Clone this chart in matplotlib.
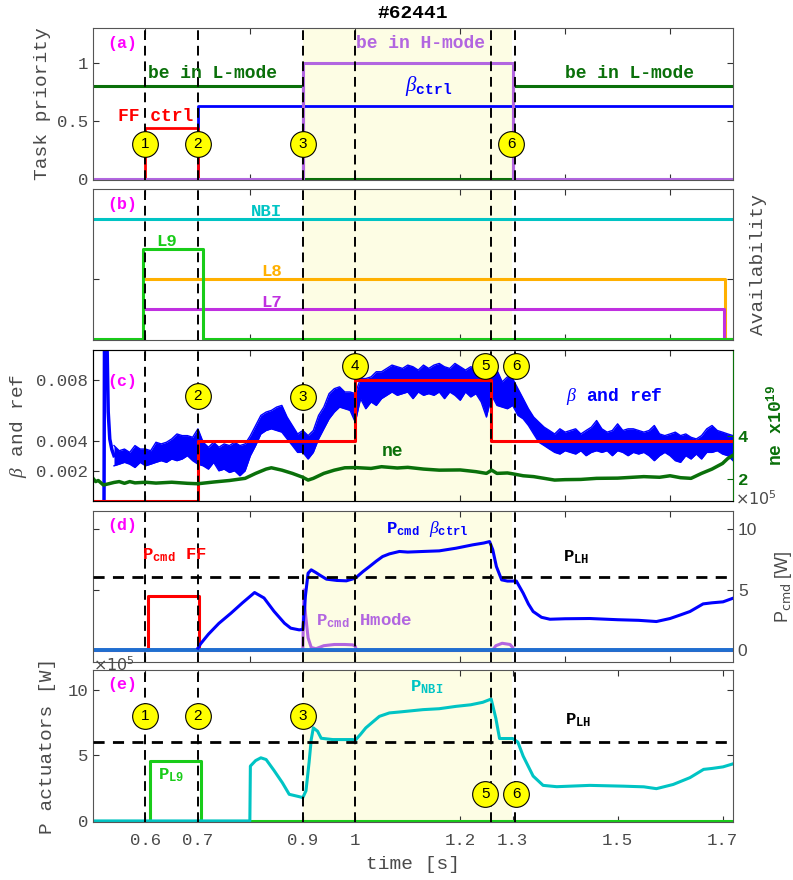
import numpy as np
import matplotlib
matplotlib.use("Agg")
import matplotlib.pyplot as plt

plt.rcParams["font.family"] = ["Liberation Mono", "DejaVu Sans"]
plt.rcParams["mathtext.fontset"] = "custom"
plt.rcParams["mathtext.rm"] = "Liberation Mono"
plt.rcParams["mathtext.bf"] = "Liberation Mono:bold"
plt.rcParams["mathtext.it"] = "Liberation Serif:italic"

# ---------------- data ----------------
events = [0.6, 0.7, 0.9, 1.0, 1.258, 1.305]
hmode_window = [0.9, 1.298]

# (a) task priorities, step "post"
lmode_t = [0.5, 0.9, 1.3, 1.72]
lmode_v = [0.8, 0.0, 0.8, 0.8]
hmode_t = [0.5, 0.9, 1.3, 1.72]
hmode_v = [0.0, 1.0, 0.0, 0.0]
bctrl_t = [0.5, 0.7, 1.72]
bctrl_v = [0.0, 0.63, 0.63]
ff_t = [0.5, 0.6, 0.7, 1.72]
ff_v = [0.0, 0.44, 0.0, 0.0]

# (b) availability, step "post"
nbi_av_t = [0.5, 1.72]
nbi_av_v = [1.0, 1.0]
l9_av_t = [0.5, 0.596, 0.709, 1.72]
l9_av_v = [0.0, 0.75, 0.0, 0.0]
l8_av_t = [0.6, 1.705, 1.72]
l8_av_v = [0.5, 0.0, 0.0]
l7_av_t = [0.6, 1.702, 1.72]
l7_av_v = [0.25, 0.0, 0.0]

# (c) beta (x1e-3): start spike + noisy band envelope
spike_t = [0.521, 0.522, 0.526, 0.529, 0.532, 0.536, 0.54]
spike_v = [0.0, 12.0, 12.0, 5.9, 4.1, 3.4, 3.0]
beta_t = np.round(np.arange(0.54, 1.7201, 0.01), 2)
beta_hi = [3.67, 3.33, 3.44, 3.22, 3.67, 3.44, 3.44, 3.33, 3.89, 3.78,
           3.89, 4.11, 4.44, 4.33, 4.33, 4.22, 4.78, 3.89, 3.56, 3.89,
           3.56, 3.78, 3.67, 3.89, 3.67, 3.78, 4.33, 5.00, 5.67, 5.89,
           6.00, 6.22, 6.33, 5.56, 5.00, 4.44, 4.67, 4.33, 4.67, 5.67,
           6.22, 7.11, 7.44, 7.56, 7.22, 7.22, 7.11, 8.11, 8.11, 8.22,
           8.56, 8.56, 8.78, 9.00, 8.89, 8.78, 9.00, 8.89, 8.67, 9.00,
           8.78, 9.00, 9.11, 8.89, 8.78, 9.11, 8.89, 8.67, 8.89, 8.78,
           8.33, 8.11, 8.89, 8.67, 7.89, 8.22, 8.11, 7.44, 6.78, 6.11,
           5.56, 5.22, 4.89, 4.67, 4.44, 4.78, 4.56, 4.67, 4.78, 4.44,
           4.67, 4.89, 5.33, 4.78, 4.56, 4.67, 5.11, 4.67, 4.78, 4.78,
           4.67, 4.56, 4.67, 5.00, 4.44, 4.33, 4.44, 4.56, 4.33, 4.44,
           4.22, 4.11, 4.33, 4.78, 5.00, 4.67, 4.56, 4.44, 4.33]
beta_lo = [2.33, 2.44, 2.56, 2.44, 2.22, 2.56, 2.33, 2.44, 2.56, 2.67,
           2.56, 2.78, 2.67, 2.78, 3.00, 2.67, 2.44, 2.33, 2.11, 2.56,
           2.00, 2.11, 1.89, 2.00, 1.67, 2.00, 3.00, 3.67, 4.44, 4.67,
           4.78, 4.67, 4.56, 4.11, 3.67, 3.22, 3.22, 2.78, 3.22, 4.11,
           4.78, 5.44, 5.89, 6.22, 6.11, 6.00, 5.22, 6.78, 6.11, 6.56,
           6.33, 6.78, 7.00, 7.22, 7.00, 7.11, 7.22, 6.78, 7.22, 7.00,
           7.11, 7.00, 7.22, 6.78, 7.22, 7.00, 6.67, 7.22, 6.89, 7.11,
           6.56, 5.56, 7.00, 6.33, 6.22, 6.11, 6.33, 5.67, 5.44, 5.00,
           4.44, 3.89, 3.67, 3.44, 3.22, 3.11, 3.33, 3.22, 3.11, 3.33,
           3.00, 3.22, 3.33, 3.22, 3.33, 3.00, 3.33, 3.22, 3.00, 3.22,
           3.11, 3.22, 3.00, 2.67, 3.00, 3.22, 3.00, 2.67, 2.56, 3.00,
           2.78, 3.11, 2.78, 3.22, 3.22, 3.33, 3.11, 3.00, 2.67]
ref_t = [0.5, 0.7, 1.0, 1.258, 1.72]
ref_v = [0.0, 4.0, 8.0, 4.0, 4.0]
ne_t = [0.5, 0.505, 0.51, 0.52, 0.53, 0.54, 0.55, 0.56, 0.57, 0.58, 0.6, 0.62,
        0.65, 0.68, 0.7, 0.73, 0.76, 0.79, 0.81, 0.83, 0.84, 0.86, 0.88, 0.9,
        0.91, 0.92, 0.94, 0.96, 0.98, 1.0, 1.03, 1.05, 1.08, 1.1, 1.13, 1.16,
        1.2, 1.23, 1.25, 1.26, 1.27, 1.29, 1.3, 1.32, 1.34, 1.36, 1.38, 1.4,
        1.43, 1.46, 1.5, 1.55, 1.58, 1.6, 1.62, 1.64, 1.66, 1.68, 1.7, 1.71, 1.72]
ne_v = [2.05, 1.9, 1.95, 1.74, 1.8, 1.86, 1.9, 1.82, 1.9, 1.84, 1.87, 1.83,
        1.87, 1.82, 1.8, 1.88, 1.95, 2.05, 2.28, 2.48, 2.54, 2.43, 2.28, 2.1,
        1.97, 2.05, 2.28, 2.43, 2.54, 2.55, 2.51, 2.59, 2.53, 2.56, 2.48, 2.43,
        2.44, 2.36, 2.28, 2.43, 2.28, 2.3, 2.26, 2.17, 2.13, 2.05, 1.97, 1.99,
        2.0, 2.05, 2.06, 2.13, 2.1, 2.17, 2.08, 2.05, 2.28, 2.48, 2.74, 2.97, 3.12]

# (d) commanded powers (x1e5 W)
pcmd_b_t = [0.7, 0.705, 0.72, 0.74, 0.763, 0.785, 0.808, 0.826, 0.845, 0.865,
            0.877, 0.893, 0.9, 0.905, 0.91, 0.916, 0.925, 0.932, 0.945, 0.965,
            0.983, 1.0, 1.015, 1.027, 1.04, 1.052, 1.065, 1.084, 1.1, 1.129,
            1.16, 1.192, 1.224, 1.245, 1.256, 1.262, 1.269, 1.279, 1.29, 1.307,
            1.32, 1.33, 1.339, 1.355, 1.371, 1.4, 1.447, 1.5, 1.54, 1.574,
            1.6, 1.62, 1.638, 1.663, 1.68, 1.701, 1.72]
pcmd_b_v = [0.15, 0.5, 1.3, 2.2, 3.04, 3.9, 4.75, 4.3, 3.2, 2.21,
            1.8, 1.66, 1.7, 4.5, 6.35, 6.63, 6.4, 6.2, 5.86, 5.75,
            5.72, 5.94, 6.5, 6.9, 7.35, 7.73, 7.95, 8.15, 8.1, 8.15,
            8.2, 8.42, 8.7, 8.85, 8.97, 8.3, 6.9, 5.8, 5.7, 5.7,
            4.7, 3.8, 3.18, 2.7, 2.54, 2.58, 2.6, 2.5, 2.45, 2.35,
            2.6, 2.9, 3.18, 3.81, 3.9, 3.98, 4.28]
pcmd_ff_t = [0.5, 0.605, 0.703, 1.72]
pcmd_ff_v = [0.0, 4.5, 0.0, 0.0]
pcmd_h_t = [0.5, 0.9, 0.902, 0.905, 0.91, 0.916, 0.925, 0.94, 0.96, 0.98,
            0.995, 1.0, 1.002, 1.262, 1.268, 1.28, 1.295, 1.3, 1.302, 1.72]
pcmd_h_v = [0.0, 0.0, 4.97, 3.0, 1.0, 0.2, 0.1, 0.35, 0.45, 0.45,
            0.42, 0.3, 0.0, 0.0, 0.35, 0.55, 0.45, 0.2, 0.0, 0.0]
zero_t = [0.5, 1.72]
zero_v = [0.0, 0.0]
p_lh = 6.0

# (e) actuator powers (x1e5 W)
pnbi_t = [0.5, 0.799, 0.8, 0.81, 0.82, 0.83, 0.845, 0.861, 0.874, 0.893,
          0.9, 0.906, 0.912, 0.916, 0.92, 0.928, 0.935, 0.957, 0.995, 1.0,
          1.01, 1.02, 1.035, 1.046, 1.065, 1.084, 1.129, 1.16, 1.192, 1.22,
          1.243, 1.259, 1.268, 1.275, 1.3, 1.31, 1.32, 1.339, 1.358, 1.384,
          1.447, 1.511, 1.55, 1.574, 1.606, 1.638, 1.664, 1.68, 1.701, 1.72]
pnbi_v = [0.0, 0.0, 4.18, 4.6, 4.81, 4.68, 3.85, 2.91, 2.03, 1.85,
          1.78, 2.3, 4.5, 6.2, 7.09, 6.84, 6.3, 6.2, 6.2, 6.15,
          6.6, 7.09, 7.6, 7.97, 8.23, 8.3, 8.48, 8.55, 8.73, 8.85,
          9.04, 9.29, 7.8, 6.28, 6.28, 6.0, 4.94, 3.42, 2.71, 2.61,
          2.71, 2.65, 2.6, 2.46, 2.78, 3.3, 3.93, 4.0, 4.12, 4.35]
pl9_t = [0.5, 0.6096, 0.706, 1.72]
pl9_v = [0.0, 4.56, 0.0, 0.0]

# numbered event markers per panel
circ_a = ([0.6, 0.7, 0.9, 1.297], [0.30, 0.30, 0.30, 0.30], ["1", "2", "3", "6"])
circ_c = ([0.7, 0.9, 1.0, 1.248, 1.307], [6.95, 6.9, 8.95, 8.95, 8.95], ["2", "3", "4", "5", "6"])
circ_e = ([0.6, 0.7, 0.9, 1.248, 1.307], [8.03, 8.03, 8.03, 2.03, 2.03], ["1", "2", "3", "5", "6"])

# ---------------- styling ----------------
GREEN_D = "#0a700a"
PURPLE = "#b266e0"
CYAN = "#00c4c4"
LIME = "#19cc19"
ORANGE = "#ffb000"
MAGENTA_L7 = "#c030e0"
TAG = "#ff00ff"
SHADE = "#fdfde4"
GRAY = "#4a4a4a"

W, H = 793, 880
fig = plt.figure(figsize=(W / 100, H / 100), dpi=100)


def add_panel(top, bottom):
    return fig.add_axes([93 / W, 1 - bottom / H, 640 / W, (bottom - top) / H])


def style(ax, xticks, xlabels):
    ax.set_xlim(0.5, 1.72)
    ax.axvspan(hmode_window[0], hmode_window[1], color=SHADE, lw=0, zorder=0)
    for t in events:
        ax.axvline(t, color="k", lw=1.4, ls=(0, (5, 3)), zorder=3)
    ax.set_xticks(xticks)
    ax.set_xticklabels(xlabels)
    ax.tick_params(direction="in", top=True, right=True, length=4, width=0.8,
                   colors="#333333", labelcolor=GRAY, labelsize=12.5)
    for s in ax.spines.values():
        s.set_color("#555555")
        s.set_linewidth(0.8)


def circles(ax, data):
    for x, y, lab in zip(*data):
        ax.plot(x, y, "o", ms=18.5, mfc="#ffff00", mec="k", mew=0.8, zorder=6, clip_on=False)
        ax.text(x, y, lab, ha="center", va="center", fontsize=11,
                family="Liberation Sans", zorder=7)


def tag(ax, s, y):
    ax.text(0.556, y, s, color=TAG, fontsize=12, fontweight="bold", ha="center", va="center")


ticks_std = [0.6, 0.8, 1.0, 1.2, 1.4, 1.6]
axa = add_panel(28, 180)
axb = add_panel(189, 340)
axc = add_panel(350, 501)
axd = add_panel(511, 662)
axe = add_panel(670, 822)
for ax in (axa, axb, axc, axd):
    style(ax, ticks_std, [""] * len(ticks_std))
ticks_e = [0.6, 0.7, 0.9, 1.0, 1.2, 1.3, 1.5, 1.7]
style(axe, ticks_e, ["0.6", "0.7", "0.9", "1", "1.2", "1.3", "1.5", "1.7"])

# ---- (a)
axa.step(bctrl_t, bctrl_v, where="post", color="blue", lw=2)
axa.step(ff_t, ff_v, where="post", color="red", lw=2)
axa.step(lmode_t, lmode_v, where="post", color=GREEN_D, lw=2.2)
axa.step(hmode_t, hmode_v, where="post", color=PURPLE, lw=2.2)
axa.set_ylim(-0.005, 1.3)
axa.set_yticks([0, 0.5, 1])
axa.set_yticklabels(["0", "0.5", "1"])
axa.set_ylabel("Task priority", fontsize=14, color=GRAY)
axa.yaxis.set_label_coords(-0.066, 0.5)
tag(axa, "(a)", 1.165)
axa.text(0.727, 0.91, "be in L-mode", color=GREEN_D, fontsize=13, fontweight="bold", ha="center", va="center")
axa.text(1.523, 0.91, "be in L-mode", color=GREEN_D, fontsize=13, fontweight="bold", ha="center", va="center")
axa.text(1.124, 1.165, "be in H-mode", color=PURPLE, fontsize=13, fontweight="bold", ha="center", va="center")
axa.text(1.14, 0.80, r"$\beta_{\mathbf{ctrl}}$", color="blue", fontsize=15, ha="center", va="center")
axa.text(0.62, 0.54, "FF ctrl", color="red", fontsize=13, fontweight="bold", ha="center", va="center")
circles(axa, circ_a)

# ---- (b)
axb.step(nbi_av_t, nbi_av_v, where="post", color=CYAN, lw=2.2)
axb.step(l8_av_t, l8_av_v, where="post", color=ORANGE, lw=2.2)
axb.step(l7_av_t, l7_av_v, where="post", color=MAGENTA_L7, lw=2.2)
axb.step(l9_av_t, l9_av_v, where="post", color=LIME, lw=2.2)
axb.set_ylim(-0.01, 1.25)
axb.set_yticks([0, 0.5, 1])
axb.set_yticklabels([])
axb.yaxis.set_label_position("right")
axb.set_ylabel("Availability", fontsize=14, color=GRAY)
axb.yaxis.set_label_coords(1.027, 0.5)
tag(axb, "(b)", 1.12)
axb.text(0.83, 1.06, "NBI", color=CYAN, fontsize=12.5, fontweight="bold", ha="center", va="center")
axb.text(0.64, 0.81, "L9", color=LIME, fontsize=12.5, fontweight="bold", ha="center", va="center")
axb.text(0.84, 0.56, "L8", color=ORANGE, fontsize=12.5, fontweight="bold", ha="center", va="center")
axb.text(0.84, 0.30, "L7", color=MAGENTA_L7, fontsize=12.5, fontweight="bold", ha="center", va="center")

# ---- (c)
axc.fill_between(beta_t, np.array(beta_lo) * 1e-3, np.array(beta_hi) * 1e-3, color="blue", lw=0, zorder=2)
axc.plot(beta_t, np.array(beta_hi) * 1e-3, color="blue", lw=1, zorder=2)
axc.plot(beta_t, np.array(beta_lo) * 1e-3, color="blue", lw=1, zorder=2)
axc.plot(spike_t, np.array(spike_v) * 1e-3, color="blue", lw=2.5, zorder=2)
axc.step(ref_t, np.array(ref_v) * 1e-3, where="post", color="red", lw=2.2, zorder=2.5)
axc.set_ylim(0, 0.01)
axc.set_yticks([0.002, 0.004, 0.008])
axc.set_yticklabels(["0.002", "0.004", "0.008"])
axc.set_ylabel(r"$\beta$ and ref", fontsize=14, color=GRAY)
axc.yaxis.set_label_coords(-0.1, 0.5)
tag(axc, "(c)", 0.0079)
axc.text(1.493, 0.0069, r"$\beta$ and ref", color="blue", fontsize=13, fontweight="bold", ha="center", va="center")
axc.text(1.07, 0.0033, "ne", color=GREEN_D, fontsize=13, fontweight="bold", ha="center", va="center")
circles(axc, (circ_c[0], [v * 1e-3 for v in circ_c[1]], circ_c[2]))
axc2 = axc.twinx()
axc2.plot(ne_t, ne_v, color=GREEN_D, lw=2.5)
axc2.set_ylim(1, 8)
axc2.set_yticks([2, 4])
axc2.set_yticklabels(["2", "4"], fontweight="bold")
axc2.tick_params(direction="in", length=4, width=0.8, colors=GREEN_D, labelsize=12.5)
axc2.spines["right"].set_color(GREEN_D)
axc2.set_ylabel(r"ne x10$^{\mathbf{19}}$", fontsize=13, fontweight="bold", color=GREEN_D)
axc2.yaxis.set_label_coords(1.05, 0.5)

# ---- (d)
axd.step(pcmd_ff_t, pcmd_ff_v, where="post", color="red", lw=2.2, zorder=2)
axd.plot(pcmd_h_t, pcmd_h_v, color=PURPLE, lw=2.2, zorder=2.2)
axd.plot(zero_t, zero_v, color="#1f6fd0", lw=2.8, zorder=2.4)
axd.plot(pcmd_b_t, pcmd_b_v, color="blue", lw=2.2, zorder=2.5)
axd.axhline(p_lh, color="k", lw=2, ls=(0, (4, 3)), zorder=2.6)
axd.set_ylim(-1, 11.5)
axd.set_yticks([0, 5, 10])
axd.set_yticklabels(["0", "5", "10"], family="Liberation Sans")
axd.tick_params(labelleft=False, labelright=True)
axd.yaxis.set_label_position("right")
axd.set_ylabel(r"P$_{\mathrm{cmd}}$ [W]", fontsize=13, color=GRAY, family="Liberation Sans",
               math_fontfamily="dejavusans")
axd.yaxis.set_label_coords(1.062, 0.5)
axd.text(1.003, 1.08, r"$\times10^{5}$", transform=axd.transAxes, ha="left", va="center",
         fontsize=11.5, color=GRAY, math_fontfamily="dejavusans")
tag(axd, "(d)", 10.3)
axd.text(0.593, 7.5, r"P$_{\mathbf{cmd}}$ FF", color="red", fontsize=12.5, fontweight="bold", va="baseline")
axd.text(1.059, 9.7, r"P$_{\mathbf{cmd}}$ $\beta_{\mathbf{ctrl}}$", color="blue", fontsize=12.5,
         fontweight="bold", va="baseline")
axd.text(0.925, 2.0, r"P$_{\mathbf{cmd}}$ Hmode", color=PURPLE, fontsize=12.5, fontweight="bold", va="baseline")
axd.text(1.396, 7.3, r"P$_{\mathbf{LH}}$", color="k", fontsize=12.5, fontweight="bold", va="baseline")

# ---- (e)
axe.step(pl9_t, pl9_v, where="post", color=LIME, lw=2.2, zorder=2)
axe.plot(pnbi_t, pnbi_v, color=CYAN, lw=2.2, zorder=2.2)
axe.axhline(p_lh, color="k", lw=2, ls=(0, (4, 3)), zorder=2.6)
axe.set_ylim(-0.08, 11.5)
axe.set_yticks([0, 5, 10])
axe.set_yticklabels(["0", "5", "10"])
axe.tick_params(axis="x", pad=8)
axe.set_ylabel("P actuators [W]", fontsize=14, color=GRAY)
axe.yaxis.set_label_coords(-0.058, 0.5)
axe.set_xlabel("time [s]", fontsize=14, color=GRAY, labelpad=6)
fig.text(93 / W, 1 - 665 / H, r"$\times10^{5}$", ha="left", va="center", fontsize=11.5, color=GRAY,
         math_fontfamily="dejavusans")
tag(axe, "(e)", 10.4)
axe.text(0.624, 3.17, r"P$_{\mathbf{L9}}$", color=LIME, fontsize=12.5, fontweight="bold", va="baseline")
axe.text(1.104, 9.87, r"P$_{\mathbf{NBI}}$", color=CYAN, fontsize=12.5, fontweight="bold", va="baseline")
axe.text(1.40, 7.34, r"P$_{\mathbf{LH}}$", color="k", fontsize=12.5, fontweight="bold", va="baseline")
circles(axe, circ_e)

fig.text(413 / W, 1 - 14 / H, "#62441", ha="center", va="center", fontsize=14, fontweight="bold")

fig.savefig("out.png", dpi=100)
